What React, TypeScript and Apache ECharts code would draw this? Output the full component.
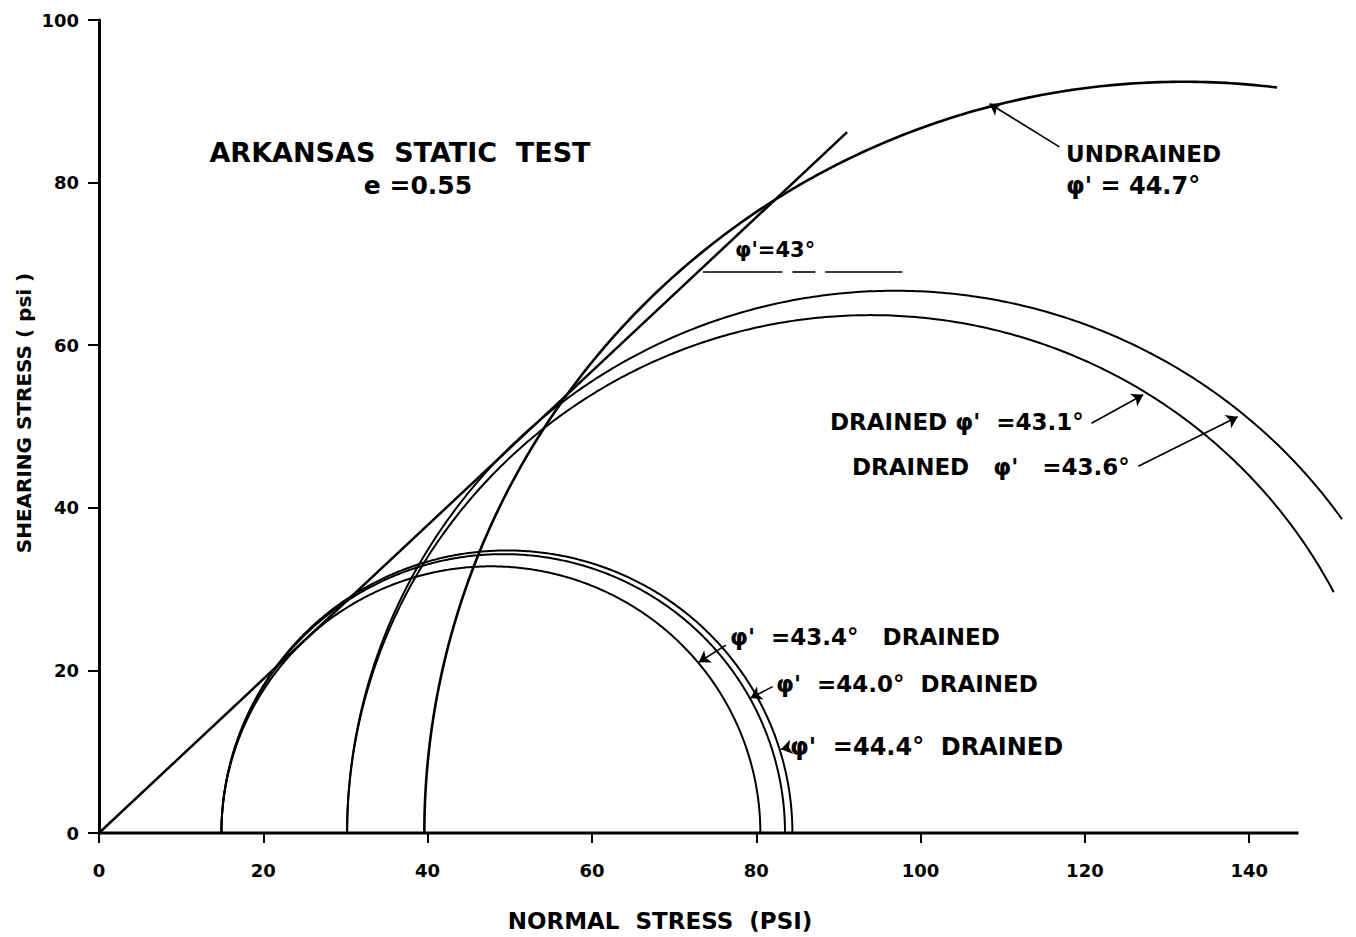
import React, { useEffect, useRef } from "react";
import * as echarts from "echarts";

// ---- data ----
const xTickLabels = [0, 20, 40, 60, 80, 100, 120, 140];
const yTickLabels = [0, 20, 40, 60, 80, 100];

// Mohr circles: minor principal stress (left foot), major principal stress (right foot)
const drainedSmallSigma3 = [14.9, 14.9, 14.9]; // phi' 43.4, 44.0, 44.4
const drainedSmallSigma1 = [80.5, 83.5, 84.4];
const drainedLargeSigma3 = [30.2, 30.2]; // phi' 43.1, 43.6
const drainedLargeSigma1 = [157.6, 163.6];
const drainedLargeDrawnTo = [150.3, 151.3]; // normal stress where the arc stops
const undrainedSigma3 = [39.6]; // phi' 44.7
const undrainedSigma1 = [224.4];
const undrainedDrawnTo = [143.4];

// Straight failure envelope from the origin
const envelopeNormal = [0, 91.06];
const envelopeShear = [0, 86.2];

// Horizontal reference (dashed) for the 43 degree angle
const angleRefShear = 69.0;
const angleRefSegments = [
  [73.5, 83.2],
  [84.4, 87.2],
  [88.4, 97.8],
];

const baselineExtent = [0, 146];

// Leader arrows: tail and head in data units
const arrowTails = [
  [116.9, 84.4],
  [120.8, 50.4],
  [126.5, 45.1],
  [76.3, 23.1],
  [82.0, 18.0],
  [83.9, 10.5],
];
const arrowHeads = [
  [108.4, 89.7],
  [127.1, 53.9],
  [138.6, 51.2],
  [73.0, 21.0],
  [79.3, 16.6],
  [83.0, 10.3],
];

const FONT = '"DejaVu Sans", "Liberation Sans", sans-serif';

function circleSeries(s3: number[], s1: number[], end: number[] | null, width: number) {
  return {
    type: "custom",
    coordinateSystem: "cartesian2d",
    clip: false,
    silent: true,
    data: s3.map((a, i) => [a, s1[i], end ? end[i] : s1[i], 0]),
    encode: { x: [0, 1], y: 3 },
    renderItem: (_params: any, api: any) => {
      const a = api.value(0);
      const b = api.value(1);
      const e = api.value(2);
      const c = (a + b) / 2;
      const r = (b - a) / 2;
      const pts: number[][] = [];
      const N = 400;
      for (let k = 0; k <= N; k++) {
        const t = (Math.PI * k) / N;
        const x = c - r * Math.cos(t);
        if (x > e) {
          const ye = Math.sqrt(Math.max(0, r * r - (e - c) * (e - c)));
          pts.push(api.coord([e, ye]));
          break;
        }
        pts.push(api.coord([x, r * Math.sin(t)]));
      }
      return {
        type: "polyline",
        shape: { points: pts },
        style: { stroke: "#000", lineWidth: width, fill: "none" },
        silent: true,
      };
    },
  };
}

function text(t: string, x: number, y: number, size: number, align = "left", rotation = 0) {
  return {
    type: "text",
    x,
    y,
    rotation,
    silent: true,
    style: {
      text: t,
      fill: "#000",
      fontSize: size,
      fontWeight: "bold",
      fontFamily: FONT,
      align,
      verticalAlign: "middle",
    },
  };
}

export default function App() {
  const ref = useRef<HTMLDivElement>(null);

  useEffect(() => {
    if (!ref.current) return;
    const chart = echarts.init(ref.current, null, { renderer: "svg" });

    const option: any = {
      animation: false,
      backgroundColor: "#fff",
      grid: { left: 99, top: 20, width: 1264, height: 813, containLabel: false },
      xAxis: {
        type: "value",
        min: 0,
        max: 153,
        interval: 20,
        axisLine: { show: false },
        axisTick: { show: true, length: 10, lineStyle: { color: "#000", width: 2 } },
        axisLabel: {
          color: "#000",
          fontSize: 18,
          fontWeight: "bold",
          fontFamily: FONT,
          margin: 28,
          showMaxLabel: false,
          formatter: (v: number) => (xTickLabels.indexOf(v) >= 0 ? String(v) : ""),
        },
        splitLine: { show: false },
      },
      yAxis: {
        type: "value",
        min: 0,
        max: 100,
        interval: 20,
        axisLine: { show: true, lineStyle: { color: "#000", width: 3 } },
        axisTick: { show: true, length: 11, lineStyle: { color: "#000", width: 2 } },
        axisLabel: {
          color: "#000",
          fontSize: 18,
          fontWeight: "bold",
          fontFamily: FONT,
          margin: 20,
          formatter: (v: number) => (yTickLabels.indexOf(v) >= 0 ? String(v) : ""),
        },
        splitLine: { show: false },
      },
      series: [
        {
          type: "line",
          data: baselineExtent.map((x) => [x, 0]),
          symbol: "none",
          clip: false,
          silent: true,
          lineStyle: { color: "#000", width: 3 },
        },
        {
          type: "line",
          data: envelopeNormal.map((x, i) => [x, envelopeShear[i]]),
          symbol: "none",
          clip: false,
          silent: true,
          lineStyle: { color: "#000", width: 2.5 },
        },
        circleSeries(drainedSmallSigma3, drainedSmallSigma1, null, 2),
        circleSeries(drainedLargeSigma3, drainedLargeSigma1, drainedLargeDrawnTo, 2),
        circleSeries(undrainedSigma3, undrainedSigma1, undrainedDrawnTo, 2.6),
        {
          type: "lines",
          coordinateSystem: "cartesian2d",
          silent: true,
          symbol: "none",
          lineStyle: { color: "#000", width: 1.6, opacity: 1 },
          data: angleRefSegments.map((s) => ({
            coords: [
              [s[0], angleRefShear],
              [s[1], angleRefShear],
            ],
          })),
        },
        {
          type: "lines",
          coordinateSystem: "cartesian2d",
          silent: true,
          symbol: ["none", "arrow"],
          symbolSize: [6, 11],
          itemStyle: { color: "#000" },
          lineStyle: { color: "#000", width: 1.6, opacity: 1 },
          data: arrowTails.map((t, i) => ({ coords: [t, arrowHeads[i]] })),
        },
      ],
      graphic: [
        text("ARKANSAS  STATIC  TEST", 400, 152, 27, "center"),
        text("e =0.55", 418, 185, 25, "center"),
        text("UNDRAINED", 1066, 154, 23),
        text("φ' = 44.7°", 1066, 186, 24),
        text("φ'=43°", 735, 250, 21),
        text("DRAINED φ'  =43.1°", 830, 422, 23),
        text("DRAINED   φ'   =43.6°", 852, 467, 23),
        text("φ'  =43.4°   DRAINED", 730, 637, 23),
        text("φ'  =44.0°  DRAINED", 776, 684, 23),
        text("φ'  =44.4°  DRAINED", 790, 747, 24),
        text("NORMAL  STRESS  (PSI)", 660, 921, 23, "center"),
        text("SHEARING STRESS ( psi )", 24, 413, 20, "center", Math.PI / 2),
      ],
    };

    chart.setOption(option);
    return () => chart.dispose();
  }, []);

  return (
    <div
      ref={ref}
      style={{ position: "absolute", left: 0, top: 0, width: 1356, height: 937 }}
    />
  );
}
